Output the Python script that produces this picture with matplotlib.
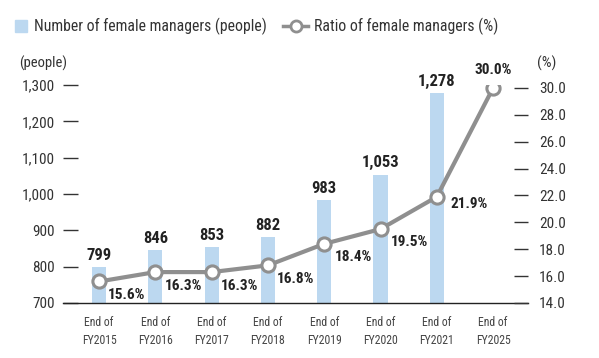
import numpy as np
import matplotlib.pyplot as plt
from matplotlib.lines import Line2D
from matplotlib.patches import Rectangle

# data
years = ['End of\nFY2015', 'End of\nFY2016', 'End of\nFY2017', 'End of\nFY2018',
         'End of\nFY2019', 'End of\nFY2020', 'End of\nFY2021', 'End of\nFY2025']
managers = [799, 846, 853, 882, 983, 1053, 1278]
ratio = [15.6, 16.3, 16.3, 16.8, 18.4, 19.5, 21.9, 30.0]
left_ticks = [700, 800, 900, 1000, 1100, 1200, 1300]
right_ticks = [14, 16, 18, 20, 22, 24, 26, 28, 30]

plt.rcParams['font.family'] = ['Roboto Condensed', 'Archivo Narrow', 'DejaVu Sans']

bar_color = '#bcd8f0'
line_color = '#8f8f8f'
txt = '#333333'
W, H = 599, 358

fig = plt.figure(figsize=(W / 100, H / 100), dpi=100)
ax = fig.add_axes([63 / W, 1 - 303 / H, (528 - 63) / W, (303 - 85) / H])
ax2 = ax.twinx()

x = np.arange(len(years))
ax.bar(x[:len(managers)], managers, width=0.25, color=bar_color, zorder=1)
ax.set_ylim(700, 1300)
ax.set_xlim(-0.64, 7.62)
ax.set_yticks(left_ticks)
ax.set_yticklabels([f'{v:,}' for v in left_ticks])
ax.set_xticks(x)
ax.set_xticklabels(years, fontsize=8.5, color='#444444', linespacing=1.6)

for xi, v in zip(x, managers):
    ax.text(xi, v + 12, f'{v:,}', ha='center', va='bottom', fontsize=12,
            fontweight='bold', color='#222222')

ax2.plot(x, ratio, color=line_color, lw=3, marker='o', ms=9.5,
         mfc='white', mec=line_color, mew=2.2, zorder=3)
ax2.set_ylim(14, 30.22)
ax2.set_yticks(right_ticks)
ax2.set_yticklabels([f'{v:.1f}' for v in right_ticks])

for xi, r in zip(x, ratio):
    if xi == 7:
        off = (0, 13)
    elif xi == 6:
        off = (23, -5)
    elif xi <= 3:
        off = (20, -10)
    else:
        off = (21, -9.5)
    ax2.annotate(f'{r:.1f}%', (xi, r), xytext=off, textcoords='offset points',
                 ha='center', va='center', fontsize=11, fontweight='bold',
                 color='#222222')

for a in (ax, ax2):
    for s in ('top', 'right', 'left'):
        a.spines[s].set_visible(False)
ax2.spines['bottom'].set_visible(False)
ax.spines['bottom'].set_linewidth(1.0)
ax.spines['bottom'].set_color('#222222')

ax.tick_params(axis='x', length=0, pad=9)
ax.tick_params(axis='y', direction='in', length=11, width=1, color='#333333',
               pad=6, labelsize=11, labelcolor=txt)
ax2.tick_params(axis='y', direction='in', length=10, width=1, color='#333333',
                pad=8, labelsize=11, labelcolor=txt)

fig.text(19 / W, 1 - 63 / H, '(people)', fontsize=10.5, color=txt, va='center')
fig.text(537 / W, 1 - 63 / H, '(%)', fontsize=11, color=txt, va='center')

# legend drawn by hand to match the reference placement
fig.patches.append(Rectangle((15 / W, 1 - 32 / H), 12 / W, 12 / H,
                             transform=fig.transFigure, color=bar_color))
fig.text(34 / W, 1 - 26 / H, 'Number of female managers (people)', fontsize=11.3,
         color=txt, va='center')
fig.lines.append(Line2D([283 / W, 308 / W], [1 - 26 / H, 1 - 26 / H],
                        transform=fig.transFigure, color=line_color, lw=2.5))
fig.lines.append(Line2D([295.5 / W], [1 - 26 / H], transform=fig.transFigure,
                        marker='o', ms=8, mfc='white', mec=line_color, mew=2))
fig.text(314 / W, 1 - 26 / H, 'Ratio of female managers (%)', fontsize=11.3,
         color=txt, va='center')

fig.savefig('out.png', dpi=100)
